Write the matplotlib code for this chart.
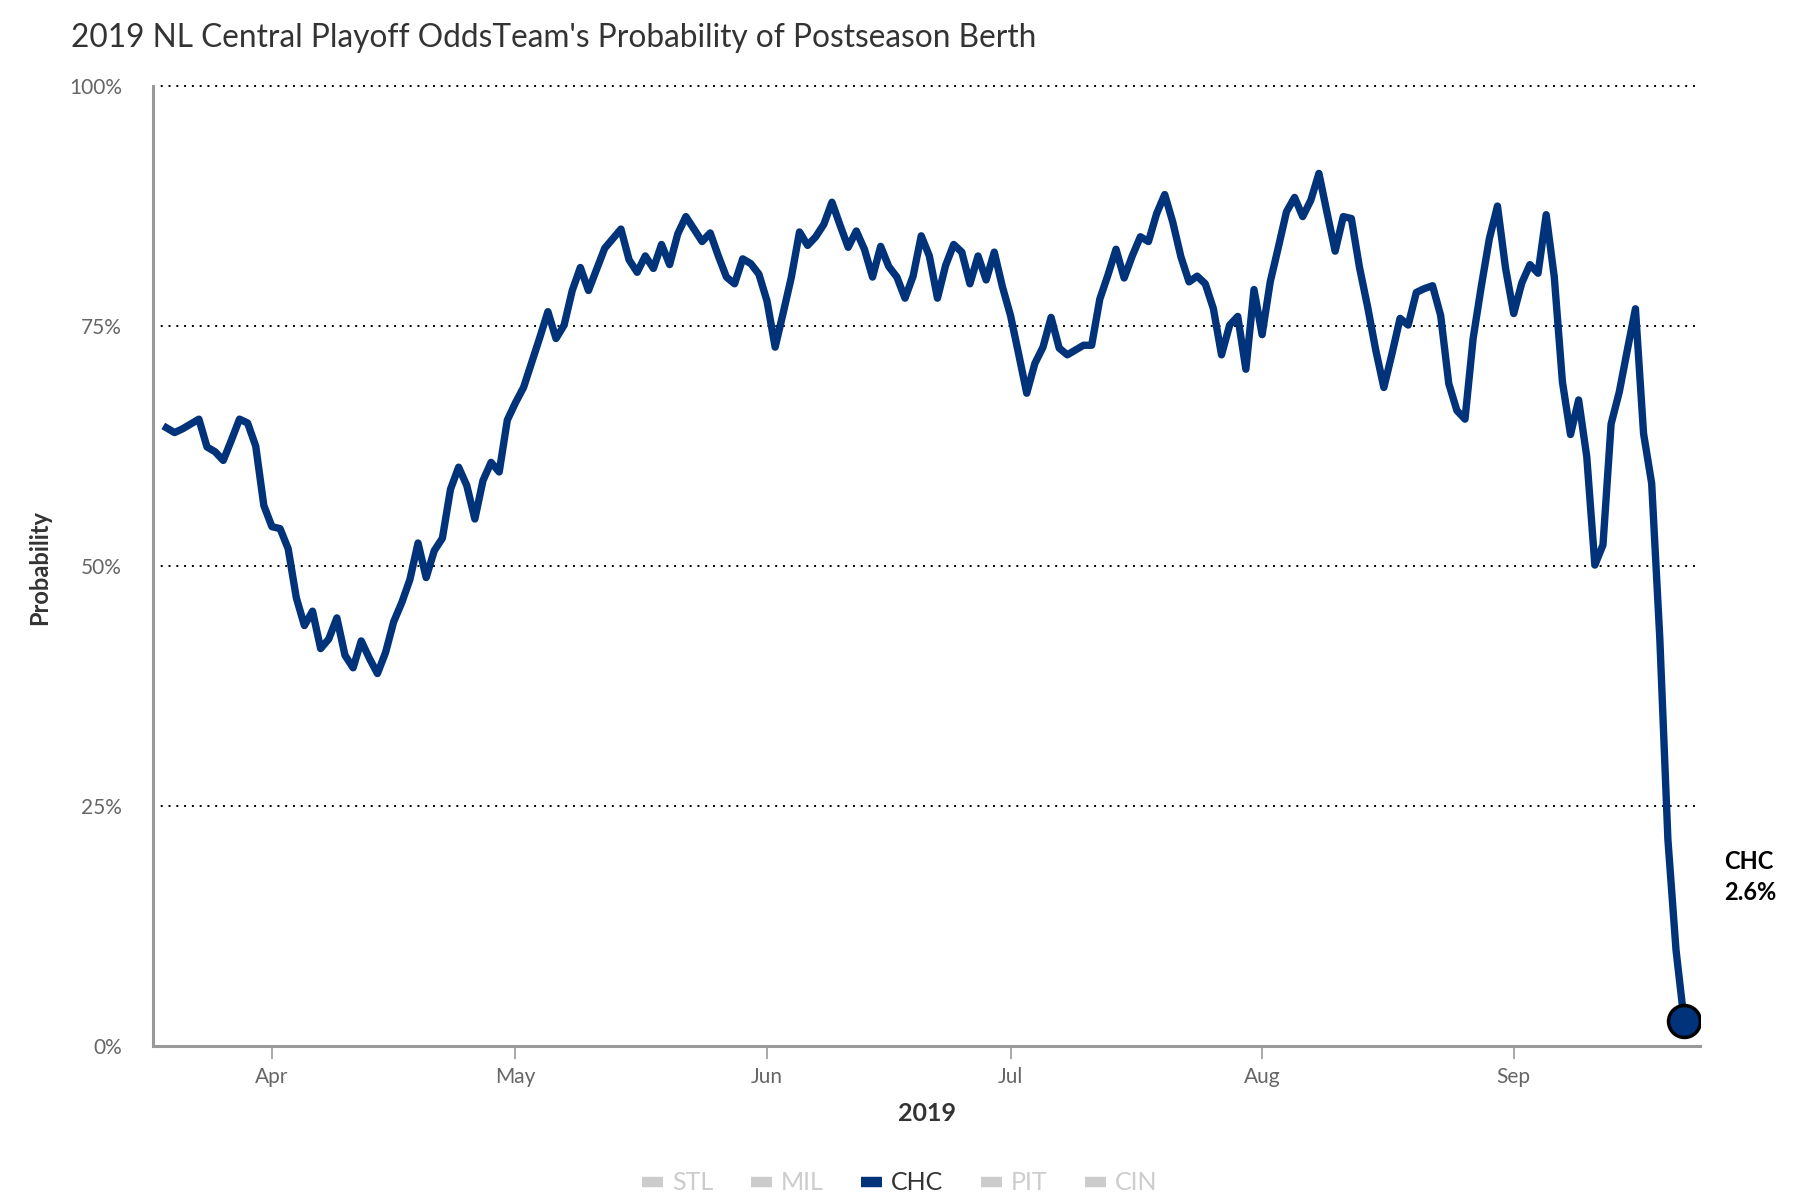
import numpy as np
import pandas as pd
import matplotlib
matplotlib.use("Agg")
from matplotlib import pyplot as plt
from matplotlib.lines import Line2D
import matplotlib.dates as mdates

plt.rcParams['font.family'] = ['Lato', 'DejaVu Sans']

title = "2019 NL Central Playoff OddsTeam's Probability of Postseason Berth"
teams = ["STL", "MIL", "CHC", "PIT", "CIN"]
shown = "CHC"

dates = pd.date_range("2019-03-19", "2019-09-22", freq="D")
chc = [
    64.4, 63.9, 64.3, 64.8, 65.3, 62.4, 61.9, 61.0, 63.1, 65.3, 64.9, 62.5, 56.3,   # Mar 19-31
    54.1, 53.9, 51.8, 46.7, 43.8, 45.3, 41.4, 42.4, 44.6, 40.7,                     # Apr 1-10
    39.4, 42.2, 40.4, 38.8, 41.0, 44.2, 46.2, 48.6, 52.4, 48.8,
    51.6, 52.9, 58.0, 60.3, 58.4, 54.9, 58.9, 60.8, 59.8, 65.2,
    67.0, 68.6, 71.2, 73.8, 76.5, 73.7, 75.1, 78.7, 81.1, 78.7,                     # May 1-10
    80.9, 83.1, 84.1, 85.1, 81.9, 80.6, 82.3, 81.0, 83.5, 81.4,
    84.6, 86.4, 85.1, 83.8, 84.7, 82.3, 80.1, 79.4, 82.0, 81.5, 80.4,
    77.6, 72.8, 76.4, 80.1, 84.8, 83.4, 84.3, 85.6, 87.9, 85.5,                     # Jun 1-10
    83.2, 84.9, 83.0, 80.1, 83.3, 81.2, 80.1, 77.9, 80.2, 84.4,
    82.3, 77.9, 81.3, 83.5, 82.7, 79.4, 82.3, 79.8, 82.7, 79.1,
    76.1, 72.1, 68.0, 71.1, 72.8, 75.9, 72.7, 72.0, 72.5, 73.0,                     # Jul 1-10
    73.0, 77.8, 80.3, 83.0, 80.0, 82.3, 84.3, 83.8, 86.7, 88.7,
    85.8, 82.2, 79.6, 80.2, 79.4, 76.8, 72.0, 75.1, 76.0, 70.5, 78.8,
    74.1, 79.6, 83.2, 86.9, 88.4, 86.4, 88.1, 90.9, 86.8, 82.8,                     # Aug 1-10
    86.4, 86.2, 81.1, 77.0, 72.5, 68.6, 72.1, 75.8, 75.1, 78.5,
    78.9, 79.2, 76.1, 69.0, 66.2, 65.3, 73.7, 79.1, 84.1, 87.5, 81.0,
    76.3, 79.5, 81.4, 80.5, 86.6, 80.1, 69.2, 63.7, 67.3, 61.4,                     # Sep 1-10
    50.1, 52.2, 64.8, 68.1, 72.5, 76.8, 63.8, 58.6, 42.5, 21.5,
    10.0, 2.6,
]

navy = "#00337A"
grey = "#999999"

fig = plt.figure(figsize=(18, 12), dpi=100)
ax = fig.add_axes([0.0848, 0.1283, 0.8594, 0.8])

ax.plot(dates, chc, color=navy, lw=5.3, solid_joinstyle="round", zorder=3)
ax.plot(dates[-1], chc[-1], "o", ms=23, mfc=navy, mec="black", mew=2.5, zorder=4)

ax.set_ylim(0, 100)
ax.set_xlim(pd.Timestamp("2019-04-01") - pd.Timedelta(days=14.7),
            pd.Timestamp("2019-04-01") + pd.Timedelta(days=175.9))

for v in [25, 50, 75, 100]:
    ax.axhline(v, color="black", lw=1.4, ls=(0, (1, 3)), clip_on=False, zorder=1)

for s in ["top", "right"]:
    ax.spines[s].set_visible(False)
for s in ["left", "bottom"]:
    ax.spines[s].set_color(grey)
    ax.spines[s].set_linewidth(2.2)

ax.set_yticks([0, 25, 50, 75, 100])
ax.set_yticklabels(["0%", "25%", "50%", "75%", "100%"])
ax.tick_params(axis="y", length=0, pad=22, labelsize=15, labelcolor="#666666")

ax.xaxis.set_major_locator(mdates.MonthLocator(bymonth=[4, 5, 6, 7, 8, 9]))
ax.xaxis.set_major_formatter(mdates.DateFormatter("%b"))
ax.tick_params(axis="x", length=9, width=1.2, color=grey, pad=6,
               labelsize=15, labelcolor="#666666")

fig.text(0.0394, 0.968, title, fontsize=22.8, color="#333333", va="center", ha="left")
fig.text(0.0222, 0.527, "Probability", fontsize=17, fontweight="bold",
         color="#333333", rotation=90, va="center", ha="center")
fig.text(0.515, 0.0717, "2019", fontsize=18, fontweight="bold",
         color="#333333", va="center", ha="center")
fig.text(0.958, 0.269, "CHC\n2.6%", fontsize=17, fontweight="bold",
         color="black", va="center", ha="left", linespacing=1.4)

handles = [Line2D([0], [0], color=(navy if t == shown else "#cccccc"), lw=7.5,
                  solid_capstyle="butt") for t in teams]
leg = fig.legend(handles, teams, loc="center", bbox_to_anchor=(0.5, 0.0142), ncol=5,
                 frameon=False, fontsize=18, handlelength=0.83, handletextpad=0.37,
                 columnspacing=1.5)
for t, txt in zip(teams, leg.get_texts()):
    txt.set_color("#333333" if t == shown else "#cccccc")

fig.savefig("out.png", dpi=100)
